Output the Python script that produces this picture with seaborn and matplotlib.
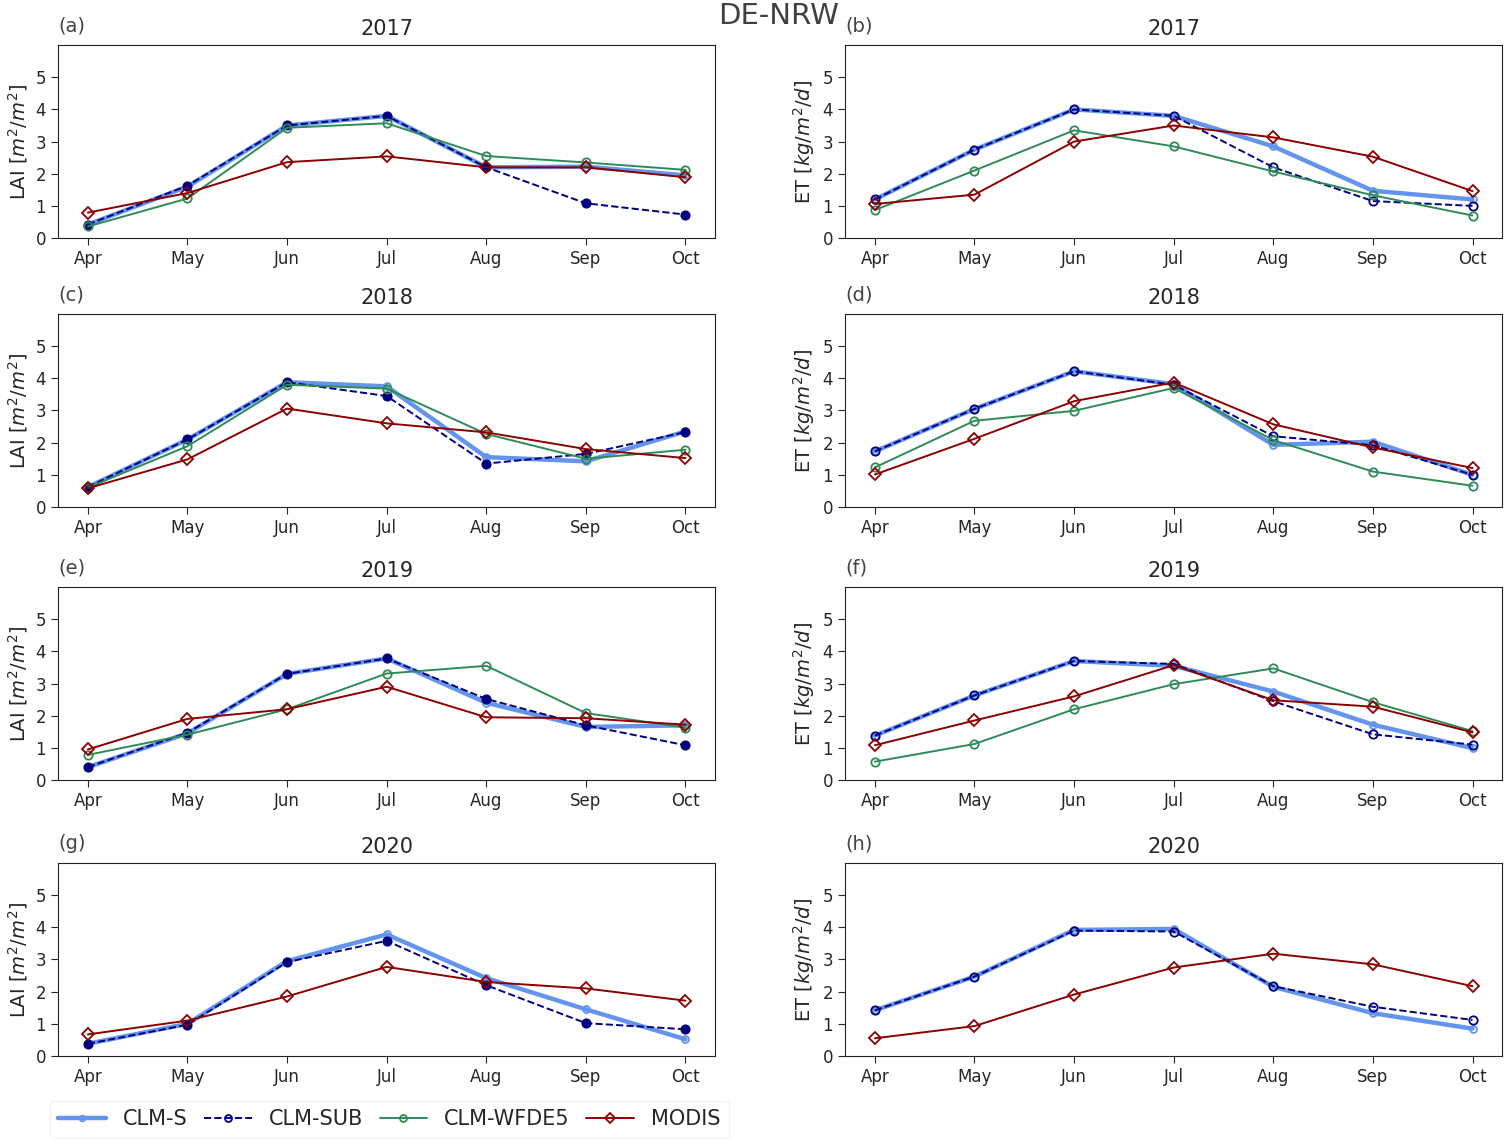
import numpy as np
import pandas as pd
import matplotlib
matplotlib.use("Agg")
import matplotlib.pyplot as plt
import seaborn as sns

months = ["Apr", "May", "Jun", "Jul", "Aug", "Sep", "Oct"]
years = ["2017", "2018", "2019", "2020"]

# LAI [m2/m2]
lai_clm_s = [
    [0.42, 1.60, 3.50, 3.80, 2.20, 2.22, 1.95],
    [0.62, 2.10, 3.88, 3.75, 1.55, 1.42, 2.35],
    [0.40, 1.45, 3.30, 3.78, 2.40, 1.65, 1.70],
    [0.38, 1.00, 2.95, 3.78, 2.42, 1.45, 0.52],
]
lai_clm_sub = [
    [0.42, 1.63, 3.50, 3.80, 2.20, 1.08, 0.73],
    [0.62, 2.10, 3.88, 3.45, 1.35, 1.65, 2.33],
    [0.40, 1.47, 3.30, 3.78, 2.52, 1.70, 1.08],
    [0.38, 0.97, 2.92, 3.58, 2.20, 1.02, 0.83],
]
lai_wfde5 = [
    [0.36, 1.23, 3.43, 3.57, 2.55, 2.35, 2.12],
    [0.60, 1.89, 3.80, 3.68, 2.27, 1.50, 1.78],
    [0.78, 1.41, 2.20, 3.31, 3.55, 2.08, 1.63],
    None,
]
lai_modis = [
    [0.79, 1.40, 2.36, 2.54, 2.20, 2.20, 1.89],
    [0.58, 1.48, 3.06, 2.60, 2.32, 1.80, 1.52],
    [0.95, 1.90, 2.20, 2.90, 1.95, 1.92, 1.72],
    [0.67, 1.10, 1.85, 2.77, 2.30, 2.10, 1.72],
]

# ET [kg/m2/d]
et_clm_s = [
    [1.20, 2.75, 4.00, 3.80, 2.85, 1.47, 1.20],
    [1.73, 3.05, 4.22, 3.82, 1.93, 2.03, 1.00],
    [1.38, 2.63, 3.70, 3.55, 2.75, 1.72, 0.99],
    [1.42, 2.47, 3.92, 3.95, 2.15, 1.33, 0.85],
]
et_clm_sub = [
    [1.20, 2.75, 4.00, 3.80, 2.20, 1.15, 1.00],
    [1.73, 3.05, 4.22, 3.80, 2.20, 1.92, 1.00],
    [1.38, 2.63, 3.70, 3.61, 2.45, 1.42, 1.10],
    [1.42, 2.47, 3.90, 3.87, 2.17, 1.53, 1.12],
]
et_wfde5 = [
    [0.87, 2.10, 3.35, 2.85, 2.07, 1.33, 0.70],
    [1.23, 2.68, 2.99, 3.70, 2.08, 1.10, 0.66],
    [0.57, 1.12, 2.20, 2.98, 3.47, 2.42, 1.52],
    None,
]
et_modis = [
    [1.06, 1.35, 3.00, 3.50, 3.13, 2.53, 1.46],
    [1.01, 2.12, 3.29, 3.87, 2.57, 1.85, 1.21],
    [1.08, 1.85, 2.60, 3.57, 2.48, 2.28, 1.48],
    [0.55, 0.93, 1.91, 2.75, 3.18, 2.85, 2.17],
]

series_names = ["CLM-S", "CLM-SUB", "CLM-WFDE5", "MODIS"]
styles = {
    "CLM-S": dict(color="cornflowerblue", lw=3.2, ls="-", marker="o", ms=5),
    "CLM-SUB": dict(color="navy", lw=1.4, ls="--", marker="o", ms=6),
    "CLM-WFDE5": dict(color="seagreen", lw=1.4, ls="-", marker="o", ms=6),
    "MODIS": dict(color="darkred", lw=1.4, ls="-", marker="D", ms=6.5),
}

sns.set_style("ticks")
plt.rcParams["font.family"] = ["DejaVu Sans"]
plt.rcParams["mathtext.fontset"] = "dejavusans"

fig = plt.figure(figsize=(15.06, 11.39), dpi=100)

lefts = [0.0385, 0.5611]
width = 0.4365
bottoms = [0.791, 0.5549, 0.3152, 0.0729]
height = 0.1694
letters = "abcdefgh"

x = np.arange(len(months))
first_ax = None
for r, year in enumerate(years):
    for c in range(2):
        ax = fig.add_axes([lefts[c], bottoms[r], width, height])
        if c == 0:
            data = [lai_clm_s[r], lai_clm_sub[r], lai_wfde5[r], lai_modis[r]]
            ylabel = r"LAI [$m^2/m^2$]"
            sub_fill = "navy"
        else:
            data = [et_clm_s[r], et_clm_sub[r], et_wfde5[r], et_modis[r]]
            ylabel = r"ET [$kg/m^2/d$]"
            sub_fill = "none"
        for name, vals in zip(series_names, data):
            if vals is None:
                continue
            st = styles[name]
            fill = "none"
            if name == "CLM-SUB":
                fill = sub_fill
            sns.lineplot(x=x, y=vals, ax=ax, color=st["color"], linewidth=st["lw"],
                         linestyle=st["ls"], marker=st["marker"], markersize=st["ms"],
                         markerfacecolor=fill, markeredgecolor=st["color"],
                         markeredgewidth=1.3, label=name, legend=False)
        ax.set_xlim(-0.3, 6.3)
        ax.set_ylim(0, 6)
        ax.set_yticks([0, 1, 2, 3, 4, 5])
        ax.set_xticks(x)
        ax.set_xticklabels(months)
        ax.tick_params(labelsize=12, length=5)
        ax.set_ylabel(ylabel, fontsize=14)
        ax.set_title(year, fontsize=15, pad=7)
        ax.text(0.0, 1.05, "(" + letters[r * 2 + c] + ")", transform=ax.transAxes,
                ha="left", va="bottom", fontsize=14, color="#444444")
        for sp in ax.spines.values():
            sp.set_visible(True)
            sp.set_color("#222222")
        if first_ax is None:
            first_ax = ax

handles = []
for name in series_names:
    st = styles[name]
    h, = first_ax.plot([], [], color=st["color"], lw=st["lw"], ls=st["ls"],
                       marker=st["marker"], ms=st["ms"] - 1, mfc="none",
                       mec=st["color"], mew=1.3)
    handles.append(h)

fig.legend(handles, series_names, loc="lower left", bbox_to_anchor=(0.026, -0.008),
           ncol=4, fontsize=15, frameon=True, edgecolor="#f0f0f0",
           handlelength=2.3, columnspacing=0.8, handletextpad=0.8)

fig.text(0.517, 0.998, "DE-NRW", ha="center", va="top", fontsize=21, color="#404040")

plt.savefig("out.png", dpi=100)
